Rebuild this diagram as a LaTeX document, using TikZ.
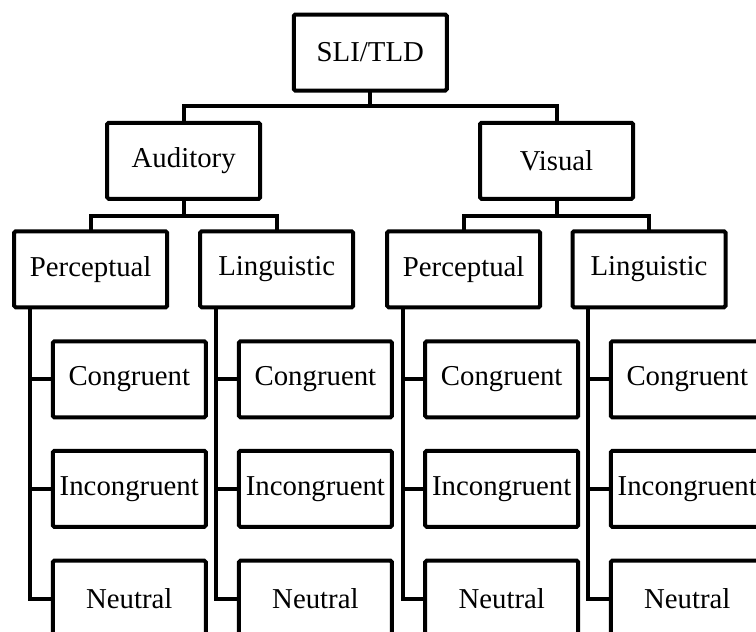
\documentclass[tikz,border=0pt]{standalone}
\usepackage{fontspec}
\setmainfont{Liberation Serif}
\begin{document}
\begin{tikzpicture}[x=1pt,y=-1pt,
  box/.style={draw=black, line width=4pt, rounded corners=1.5pt, rectangle, inner sep=0pt, outer sep=0pt,
    minimum width=153pt, minimum height=76pt, font=\fontsize{28.8pt}{34pt}\selectfont, fill=white},
  conn/.style={draw=black, line width=4pt, line join=miter}]
\useasboundingbox (0,0) rectangle (756,632);
\clip (0,0) rectangle (756,632);
\fill[white] (0,0) rectangle (756,632);

% level 1-2
\node[box] (sli) at (370.3,52.5) {SLI/TLD};
\node[box] (aud) at (183.7,160.8) {Auditory};
\node[box] (vis) at (556.5,160.8) {Visual};

% level 3
\node[box] (ap) at (90.7,269.3) {Perceptual};
\node[box] (al) at (276.7,269.3) {Linguistic};
\node[box] (vp) at (463.7,269.3) {Perceptual};
\node[box] (vl) at (649,269.3) {Linguistic};

% level 4
\foreach \p/\x in {ap/129.3, al/315.4, vp/501.7, vl/687.3}{
  \node[box] (\p c) at (\x,379.3) {Congruent};
  \node[box] (\p i) at (\x,488.8) {Incongruent};
  \node[box] (\p n) at (\x,598.7) {Neutral};
}

% top connectors
\coordinate (bus1) at ([yshift=16.7pt]aud.north);
\draw[conn] (sli.south) -- (sli.south |- bus1);
\draw[conn] (aud.north) -- (bus1) -| (vis.north);

\coordinate (bus2) at ([yshift=15.3pt]ap.north);
\draw[conn] (aud.south) -- (aud.south |- bus2);
\draw[conn] (ap.north) -- (bus2) -| (al.north);

\coordinate (bus3) at ([yshift=15.3pt]vp.north);
\draw[conn] (vis.south) -- (vis.south |- bus3);
\draw[conn] (vp.north) -- (bus3) -| (vl.north);

% spines
\foreach \p in {ap, al, vp, vl}{
  \coordinate (\p s) at ([xshift=15.3pt]\p.south west);
  \draw[conn] (\p s) |- (\p n.west);
  \draw[conn] (\p s |- \p c.west) -- (\p c.west);
  \draw[conn] (\p s |- \p i.west) -- (\p i.west);
}
\end{tikzpicture}
\end{document}
